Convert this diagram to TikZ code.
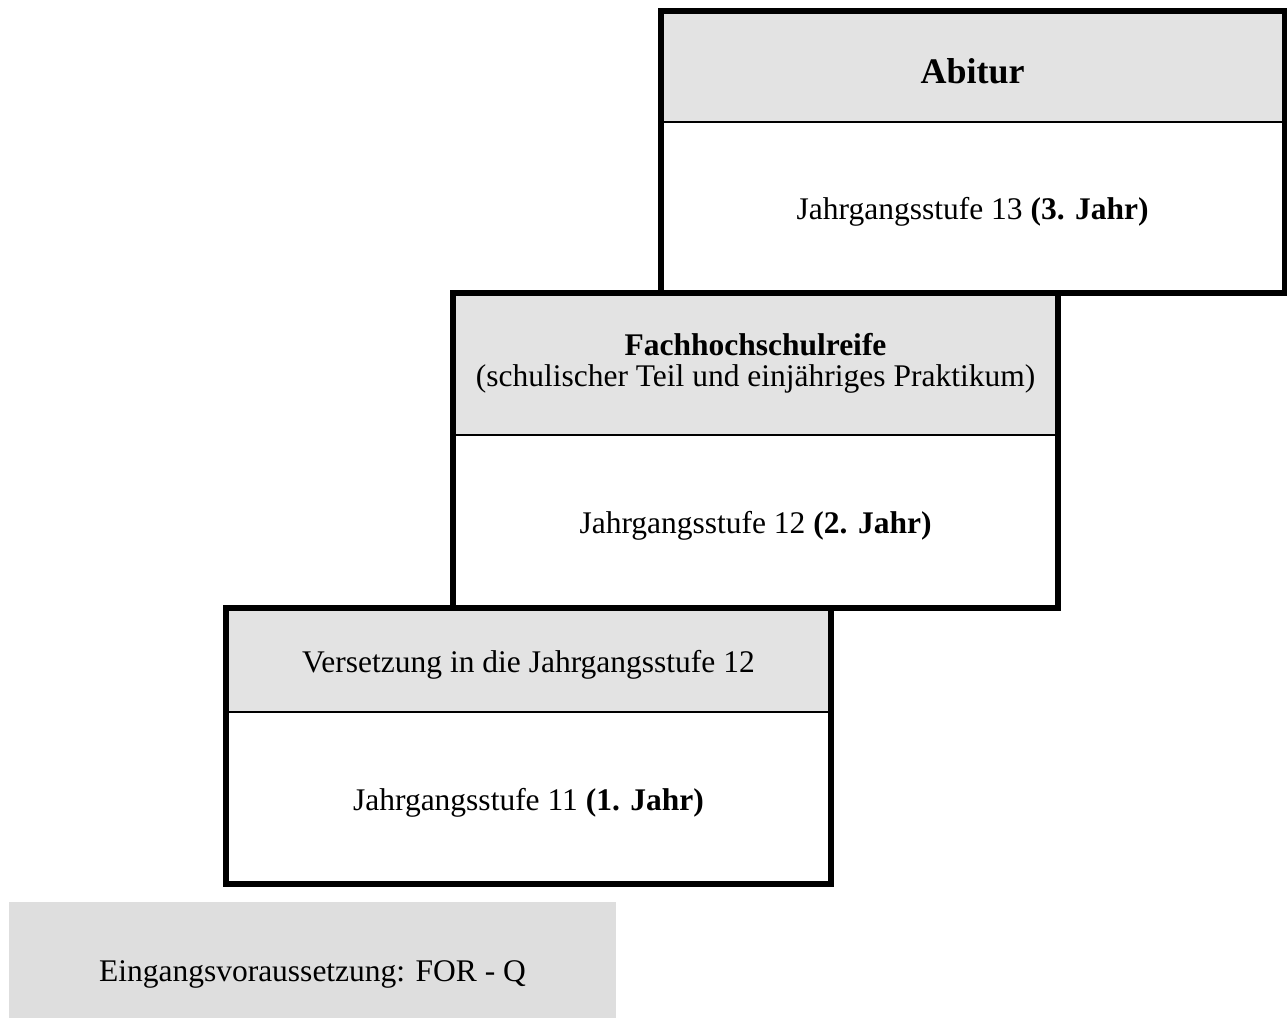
\documentclass[tikz,border=0pt]{standalone}
\usepackage{fontspec}
\setmainfont{Liberation Serif}
\definecolor{headgray}{HTML}{E3E3E3}
\definecolor{basegray}{HTML}{DEDEDE}
\tikzset{
  boxframe/.style={draw=black, line width=6pt, line join=miter},
  headfill/.style={fill=headgray, draw=none},
  headline/.style={draw=black, line width=2.2pt},
  txt/.style={inner sep=0pt, anchor=base, font=\fontsize{31.5}{38}\selectfont},
  titletxt/.style={inner sep=0pt, anchor=base, font=\fontsize{36}{42}\selectfont\bfseries},
}
\begin{document}
\begin{tikzpicture}[x=1pt,y=-1pt]
\useasboundingbox (0,0) rectangle (1287,1018);
% ---- Box 3 (Abitur)
\coordinate (b3nw) at (661,11);
\coordinate (b3se) at (1284.5,293);
\fill[white] (b3nw) rectangle (b3se);
\fill[headgray] (661,11) rectangle (1284.5,122);
\draw[headline] (661,122) -- (1284.5,122);
\draw[boxframe] (b3nw) rectangle (b3se);
\node[titletxt] (abitur) at (972.7,83) {Abitur};
\node[txt] (j13) at (972.7,219) {Jahrgangsstufe 13 \textbf{(3. Jahr)}};
% ---- Box 2 (Fachhochschulreife)
\coordinate (b2nw) at (453,293);
\coordinate (b2se) at (1058,608);
\fill[white] (b2nw) rectangle (b2se);
\fill[headgray] (453,293) rectangle (1058,435);
\draw[headline] (453,435) -- (1058,435);
\draw[boxframe] (b2nw) rectangle (b2se);
\node[txt, font=\fontsize{31.5}{38}\selectfont\bfseries] (fhr) at (755.5,355) {Fachhochschulreife};
\node[txt] (fhrsub) at (755.5,386) {(schulischer Teil und einjähriges Praktikum)};
\node[txt] (j12) at (755.5,533) {Jahrgangsstufe 12 \textbf{(2. Jahr)}};
% ---- Box 1 (Versetzung)
\coordinate (b1nw) at (226,608);
\coordinate (b1se) at (831,884);
\fill[white] (b1nw) rectangle (b1se);
\fill[headgray] (226,608) rectangle (831,712);
\draw[headline] (226,712) -- (831,712);
\draw[boxframe] (b1nw) rectangle (b1se);
\node[txt] (vers) at (528.5,672) {Versetzung in die Jahrgangsstufe 12};
\node[txt] (j11) at (528.5,810) {Jahrgangsstufe 11 \textbf{(1. Jahr)}};
% ---- Base (Eingangsvoraussetzung)
\fill[basegray] (9,902) rectangle (616,1018);
\node[txt] (eing) at (312.5,981) {Eingangsvoraussetzung: FOR - Q};
\end{tikzpicture}
\end{document}
